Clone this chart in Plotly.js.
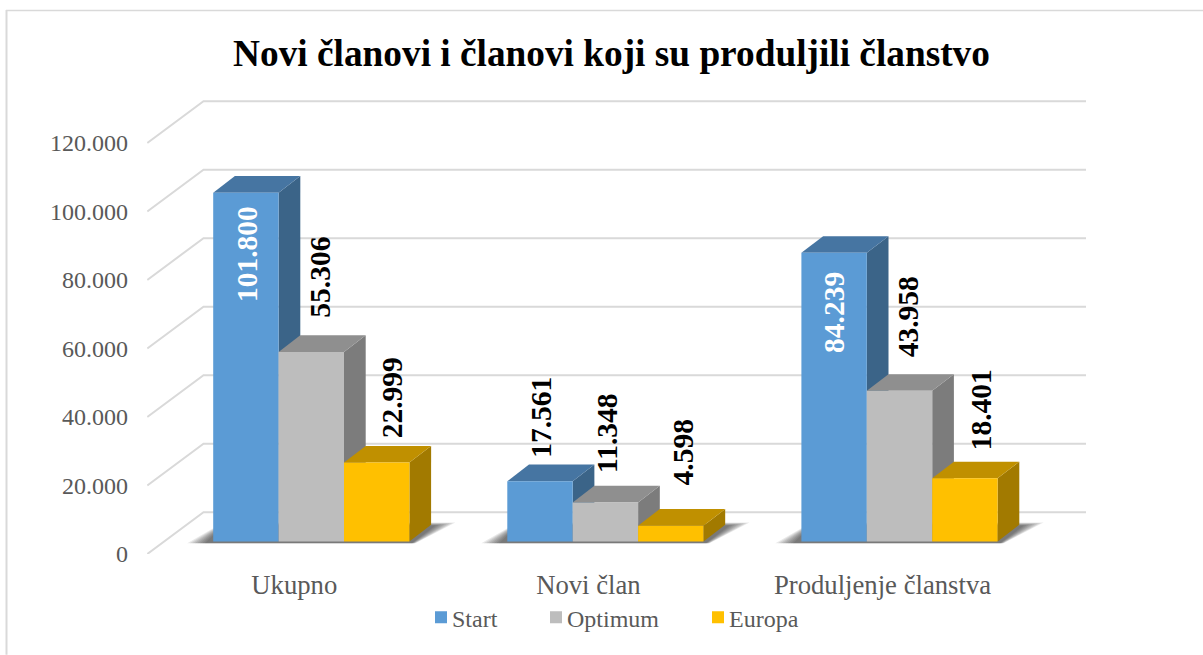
<!DOCTYPE html>
<html><head><meta charset="utf-8">
<script src="https://cdn.plot.ly/plotly-3.0.1.min.js"></script>
<style>html,body{margin:0;padding:0;background:#fff}#chart{width:1203px;height:655px}</style>
</head><body><div id="chart"></div>
<script>
// ---- data ----
const categories = ['Ukupno', 'Novi član', 'Produljenje članstva'];
const start = [101800, 17561, 84239];
const optimum = [55306, 11348, 43958];
const europa = [22999, 4598, 18401];
const yTicks = [0, 20000, 40000, 60000, 80000, 100000, 120000];
const yTickLabels = ['0', '20.000', '40.000', '60.000', '80.000', '100.000', '120.000'];
const seriesNames = ['Start', 'Optimum', 'Europa'];
const titleText = 'Novi članovi i članovi koji su produljili članstvo';

// ---- styles ----
const FONT = '"Liberation Serif","Times New Roman",serif';
const frontCol = ['#5B9BD5', '#BDBDBD', '#FFC000'];
const topCol = ['#4675A2', '#8F8F8F', '#C09000'];
const sideCol = ['#3B6488', '#7C7C7C', '#A27A00'];
// label offsets in px from bar centre/top: [series][category] = [dx, dy]
const labelShift = [
  [[0.5, 61], [1, -63.5], [0.5, 59.5]],
  [[8.5, -75], [1, -70], [8, -74]],
  [[15, -65], [12, -73], [16, -69]]
];
const legendLeftPx = [412, 527, 689];

// ---- geometry ----
const W = 1203, H = 655;
const pxL = 147, pxR = 1090, pxT = 80, pxZero = 554.3, pxBase = 541.7;
const pxPerCat = 294.1, pxPerVal = 0.003428, catMidPx = 605.4;
const xFromPx = p => (p - catMidPx) / pxPerCat + 1;
const dxPx = p => p / pxPerCat;
const dvPx = p => p / pxPerVal;
const yMax = (pxZero - pxT) / pxPerVal;
const baseShift = (pxZero - pxBase) / pxPerVal;
const barW = 65.4 / pxPerCat;

const series = [start, optimum, europa];
const traces = [];

// back-wall gridlines with their diagonal on the side wall
const gx = [], gy = [];
yTicks.forEach(v => {
  gx.push(xFromPx(147.3), xFromPx(203.5), xFromPx(1086), null);
  gy.push(v, v + dvPx(41.8), v + dvPx(41.8), null);
});
traces.push({type: 'scatter', mode: 'lines', x: gx, y: gy, xaxis: 'x', yaxis: 'y',
  line: {color: '#D9D9D9', width: 2}, showlegend: false, hoverinfo: 'skip', cliponaxis: false});

// soft floor shadows
const shadowLevels = [0, 1, 2, 3, 4, 5, 6, 7];
categories.forEach((c, i) => {
  const x0 = i - 1.5 * barW, x1 = i + 1.5 * barW;
  shadowLevels.forEach(k => {
    traces.push({type: 'scatter', mode: 'lines', fill: 'toself', xaxis: 'x', yaxis: 'y2',
      x: [x0 - dxPx(26 - k * 2.5), x1 + dxPx(6 - k * 0.5), x1 + dxPx(46 - k * 2.8), x0 + dxPx(10)],
      y: [dvPx(-1.8), dvPx(-1.8), dvPx(18.8 - k * 0.4), dvPx(18.8 - k * 0.4)],
      fillcolor: 'rgba(0,0,0,0.085)', line: {width: 0}, showlegend: false, hoverinfo: 'skip'});
  });
});

// tops and sides of the bars, painted left to right
const ddx = dxPx(21.7), ddv = dvPx(16.7);
categories.forEach((c, i) => {
  series.forEach((vals, s) => {
    const x0 = i + (s - 1.5) * barW, x1 = x0 + barW, v = vals[i];
    traces.push({type: 'scatter', mode: 'lines', fill: 'toself', xaxis: 'x', yaxis: 'y2',
      x: [x1, x1 + ddx, x1 + ddx, x1], y: [0, ddv, v + ddv, v],
      fillcolor: sideCol[s], line: {width: 0}, showlegend: false, hoverinfo: 'skip'});
    traces.push({type: 'scatter', mode: 'lines', fill: 'toself', xaxis: 'x', yaxis: 'y2',
      x: [x0, x0 + ddx, x1 + ddx, x1], y: [v, v + ddv, v + ddv, v],
      fillcolor: topCol[s], line: {width: 0}, showlegend: false, hoverinfo: 'skip'});
  });
});

// front faces, each series in its own legend so the entries can sit as in the reference
series.forEach((vals, s) => {
  traces.push({type: 'bar', name: seriesNames[s], x: categories.map((c, i) => i), y: vals,
    xaxis: 'x', yaxis: 'y3', legend: s === 0 ? 'legend' : 'legend' + (s + 1), showlegend: true,
    marker: {color: frontCol[s], line: {width: 0}}, hoverinfo: 'skip'});
});

// data labels
const fmt = v => String(v).replace(/\B(?=(\d{3})+$)/g, '.');
const annotations = [];
series.forEach((vals, s) => vals.forEach((v, i) => {
  const inside = labelShift[s][i][1] > 0;
  annotations.push({xref: 'x', yref: 'y3', x: i + (s - 1) * barW, y: v, text: fmt(v), showarrow: false,
    textangle: -90, xanchor: 'center', yanchor: 'middle',
    xshift: labelShift[s][i][0], yshift: -labelShift[s][i][1],
    font: {family: FONT, size: 29.5, color: inside ? '#FFFFFF' : '#000000', weight: 700}});
}));

const pw = pxR - pxL, ph = pxZero - pxT;
const legendOf = s => ({orientation: 'h', xref: 'paper', yref: 'paper', x: (legendLeftPx[s] - pxL) / pw, xanchor: 'left',
  y: (pxZero - 618) / ph, yanchor: 'middle', font: {family: FONT, size: 24, color: '#595959'},
  bgcolor: 'rgba(0,0,0,0)', itemclick: false, itemdoubleclick: false});
const layout = {
  width: W, height: H, autosize: false,
  margin: {l: pxL, r: W - pxR, t: pxT, b: H - pxZero, pad: 0},
  paper_bgcolor: '#FFFFFF', plot_bgcolor: 'rgba(0,0,0,0)',
  font: {family: FONT, color: '#595959', size: 23.4},
  title: {text: titleText, x: 611.5 / W, xanchor: 'center', xref: 'container', y: 1 - 53 / H, yanchor: 'middle',
    font: {family: FONT, size: 37.3, color: '#000000', weight: 700}},
  barmode: 'group', bargap: 1 - 3 * barW, bargroupgap: 0,
  xaxis: {range: [xFromPx(pxL), xFromPx(pxR)], tickmode: 'array',
    tickvals: categories.map((c, i) => i - 17 / pxPerCat), ticktext: categories,
    showgrid: false, zeroline: false, showline: false, ticks: '', ticklabelstandoff: 12,
    tickfont: {family: FONT, size: 26.7, color: '#595959'}},
  yaxis: {range: [0, yMax], tickmode: 'array', tickvals: yTicks, ticktext: yTickLabels,
    showgrid: false, zeroline: false, showline: false, ticks: '', ticklabelstandoff: 18,
    tickfont: {family: FONT, size: 24, color: '#595959'}},
  yaxis2: {range: [-baseShift, yMax - baseShift], overlaying: 'y', visible: false},
  yaxis3: {range: [-baseShift, yMax - baseShift], overlaying: 'y', visible: false},
  legend: legendOf(0), legend2: legendOf(1), legend3: legendOf(2),
  shapes: [
    {type: 'line', xref: 'paper', yref: 'paper', x0: (6.5 - pxL) / pw, x1: (6.5 - pxL) / pw,
      y0: (pxZero - 10) / ph, y1: (pxZero - 655) / ph, line: {color: '#D9D9D9', width: 2}},
    {type: 'line', xref: 'paper', yref: 'paper', x0: (6 - pxL) / pw, x1: (1203 - pxL) / pw,
      y0: (pxZero - 10.5) / ph, y1: (pxZero - 10.5) / ph, line: {color: '#D9D9D9', width: 1.5}}
  ],
  annotations: annotations,
  hovermode: false
};
Plotly.newPlot('chart', traces, layout, {displayModeBar: false}).then(gd => {
  // the reference keeps the swatch close to its text
  gd.querySelectorAll('.legendsymbols').forEach(g => g.setAttribute('transform', 'translate(9,0)'));
});
</script></body></html>
